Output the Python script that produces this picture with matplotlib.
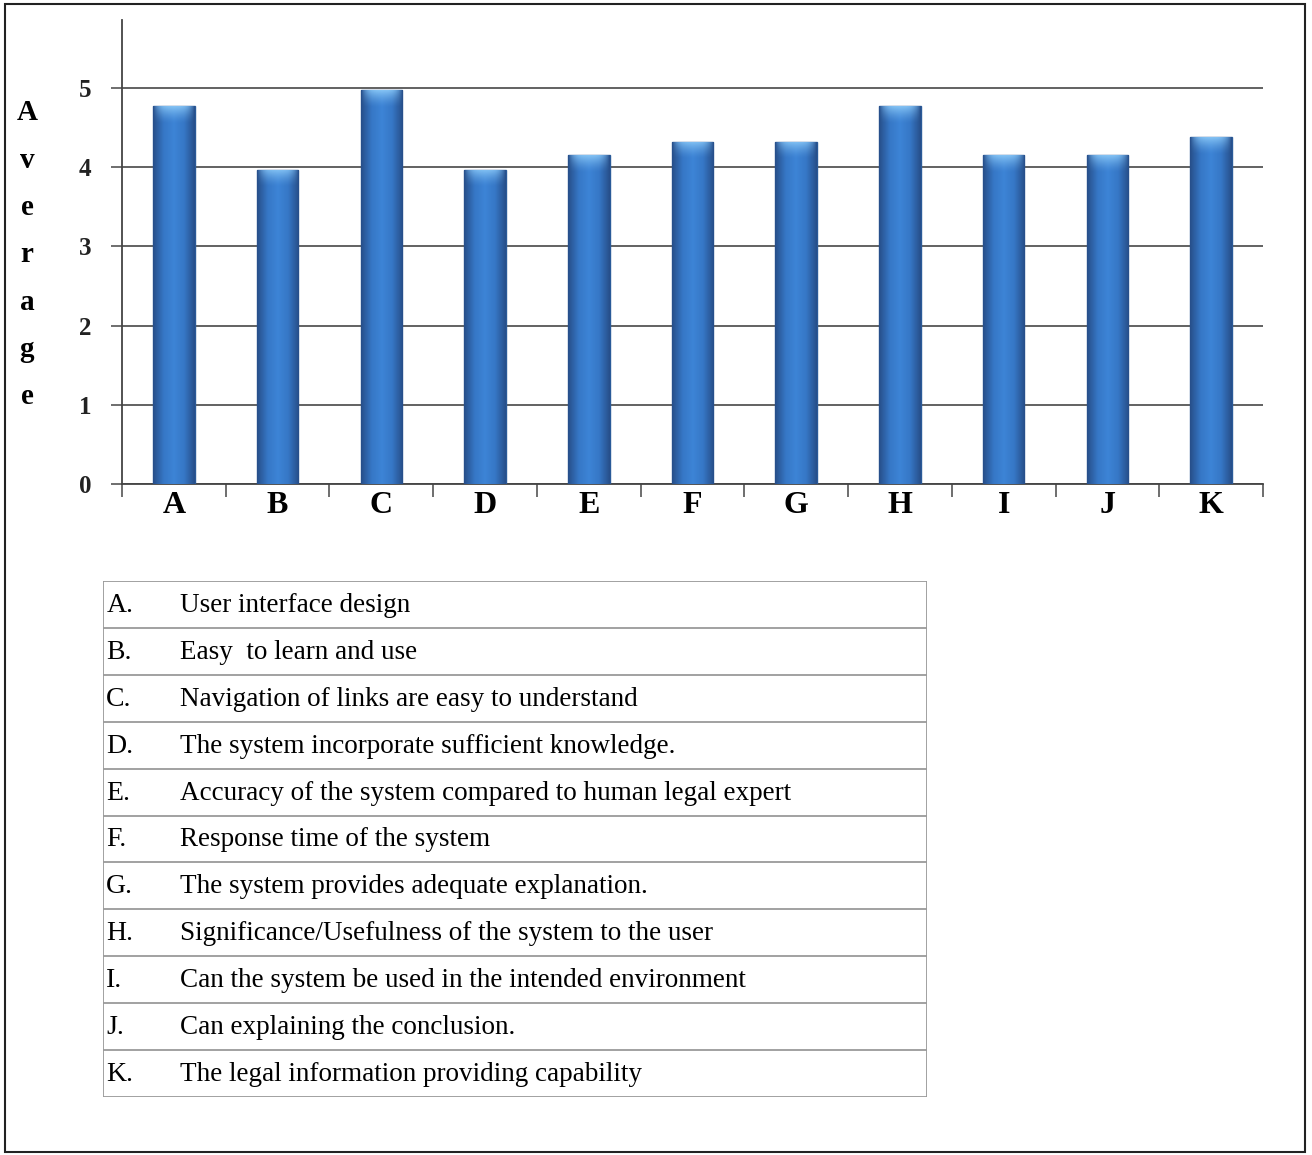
import matplotlib.pyplot as plt
import numpy as np
from matplotlib.colors import LinearSegmentedColormap, to_rgb
from matplotlib.patches import Rectangle

# data
categories = ['A', 'B', 'C', 'D', 'E', 'F', 'G', 'H', 'I', 'J', 'K']
averages = [4.77, 3.97, 4.97, 3.97, 4.15, 4.32, 4.32, 4.77, 4.15, 4.15, 4.38]
descriptions = [
    'User interface design',
    'Easy  to learn and use',
    'Navigation of links are easy to understand',
    'The system incorporate sufficient knowledge.',
    'Accuracy of the system compared to human legal expert',
    'Response time of the system',
    'The system provides adequate explanation.',
    'Significance/Usefulness of the system to the user',
    'Can the system be used in the intended environment',
    'Can explaining the conclusion.',
    'The legal information providing capability',
]
y_ticks = [0, 1, 2, 3, 4, 5]
axis_letters = list('Average')

W, H = 1312, 1155
serif = 'Liberation Serif'

fig = plt.figure(figsize=(W / 100, H / 100), dpi=100)

# bar chart
ax = fig.add_axes([122 / W, 1 - 484 / H, (1263 - 122) / W, (484 - 20) / H])
x = np.arange(len(categories))
bars = ax.bar(x, averages, width=0.4, color='#3572bf', edgecolor='#2a5a98',
              linewidth=1, zorder=3)

# shaded look of the bars: darker sides, light soft top
body = LinearSegmentedColormap.from_list(
    'body', ['#274f8a', '#3677c6', '#3d84d6', '#3677c6', '#274f8a'])
grad = np.linspace(0, 1, 64).reshape(1, -1)
cap_rgb = np.array(to_rgb('#8ccaf8'))
cap = np.zeros((32, 64, 4))
cap[..., :3] = cap_rgb
side = 1 - np.abs(np.linspace(-1, 1, 64)) ** 3
fade = np.linspace(1, 0, 32) ** 1.5
cap[..., 3] = 0.9 * fade[:, None] * side[None, :]
for b in bars:
    bx, bw, bh = b.get_x(), b.get_width(), b.get_height()
    im = ax.imshow(grad, cmap=body, extent=(bx, bx + bw, 0, bh),
                   aspect='auto', zorder=3.5)
    im.set_clip_path(b)
    im2 = ax.imshow(cap, extent=(bx, bx + bw, bh - 0.22, bh),
                    aspect='auto', zorder=3.6)
    im2.set_clip_path(b)

ax.set_xlim(-0.5, len(categories) - 0.5)
ax.set_ylim(0, 5.86)
ax.set_yticks(y_ticks)
ax.set_yticklabels([str(t) for t in y_ticks], family=serif, fontweight='bold',
                   fontsize=18, color='#222222')
ax.set_xticks(x)
ax.set_xticklabels(categories, family=serif, fontweight='bold', fontsize=23)
ax.set_xticks(np.arange(len(categories) + 1) - 0.5, minor=True)
ax.tick_params(axis='x', which='major', length=0, pad=5)
ax.tick_params(axis='x', which='minor', length=9, width=1.2, color='#555555',
               direction='out')
ax.tick_params(axis='y', length=8, width=1.2, color='#555555', pad=14)
ax.yaxis.grid(True, color='#555555', linewidth=1.3, zorder=0)
ax.set_axisbelow(True)
for s in ['top', 'right']:
    ax.spines[s].set_visible(False)
for s in ['left', 'bottom']:
    ax.spines[s].set_color('#444444')
    ax.spines[s].set_linewidth(1.3)

# vertical "Average" label, one letter per line
for i, ch in enumerate(axis_letters):
    fig.text(27 / W, 1 - (113 + 47.3 * i) / H, ch, ha='center', va='center',
             family=serif, fontweight='bold', fontsize=21)

# key table under the chart
tax = fig.add_axes([103 / W, 1 - 1097 / H, (927 - 103) / W, (1097 - 581) / H])
tax.set_xlim(0, 1)
tax.set_ylim(len(categories), 0)
tax.axis('off')
for i in range(len(categories) + 1):
    tax.axhline(i, color='#9a9a9a', linewidth=1.3)
tax.axvline(0, color='#9a9a9a', linewidth=1.3)
tax.axvline(1, color='#9a9a9a', linewidth=1.3)
for i, (cat, desc) in enumerate(zip(categories, descriptions)):
    tax.text(0.004, i + 0.52, cat + '.', va='center', ha='left',
             family=serif, fontsize=20)
    tax.text(0.093, i + 0.52, desc, va='center', ha='left',
             family=serif, fontsize=19.5)

# outer frame
fig.patches.append(Rectangle((5 / W, 3 / H), 1300 / W, 1148 / H,
                             transform=fig.transFigure, fill=False,
                             edgecolor='#222222', linewidth=1.5))

fig.savefig('out.png', dpi=100)
